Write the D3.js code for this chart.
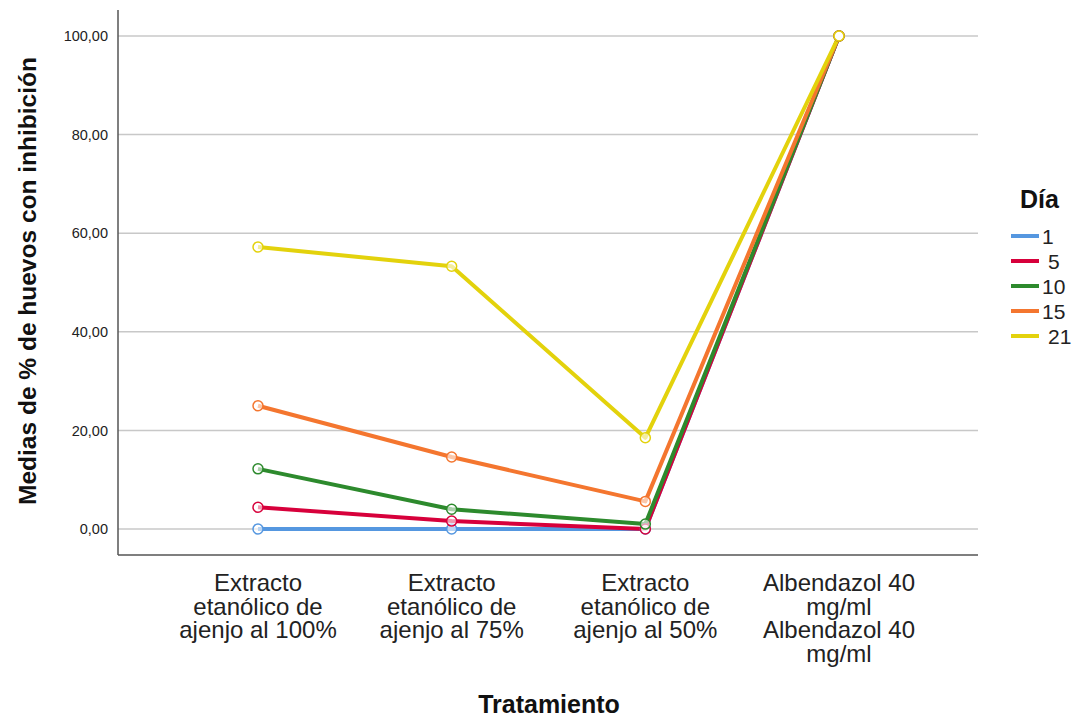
<!DOCTYPE html>
<html><head><meta charset="utf-8">
<script src="https://cdn.jsdelivr.net/npm/d3@7"></script>
<style>body{margin:0;background:#fff;font-family:"Liberation Sans",Arial,sans-serif;}</style>
</head><body><svg id="c" width="1077" height="717"></svg>
<script>
const categories = ["Extracto etanólico de ajenjo al 100%", "Extracto etanólico de ajenjo al 75%", "Extracto etanólico de ajenjo al 50%", "Albendazol 40 mg/ml Albendazol 40 mg/ml"];
const categoryLines = [["Extracto","etanólico de","ajenjo al 100%"],["Extracto","etanólico de","ajenjo al 75%"],["Extracto","etanólico de","ajenjo al 50%"],["Albendazol 40","mg/ml","Albendazol 40","mg/ml"]];
const days = ["1","5","10","15","21"];
const day1 = [0, 0, 0, 100];
const day5 = [4.4, 1.6, 0, 100];
const day10 = [12.2, 4.0, 1.0, 100];
const day15 = [25.0, 14.6, 5.6, 100];
const day21 = [57.2, 53.3, 18.5, 100];
const seriesValues = [day1, day5, day10, day15, day21];
const colors = ["#5597e0", "#d7003b", "#2d8a2d", "#f4762f", "#e3d20c"];
const yTicks = [0, 20, 40, 60, 80, 100];

const svg = d3.select("#c");
const L = 118, R = 978, T = 10, B = 555;
const y = d3.scaleLinear().domain([0, 100]).range([529, 36]);
const x = d3.scalePoint().domain(categories).range([258, 839]);

// gridlines
svg.append("g").selectAll("line").data(yTicks).join("line")
  .attr("x1", L).attr("x2", R).attr("y1", d => y(d)).attr("y2", d => y(d))
  .attr("stroke", "#c8c8c8").attr("stroke-width", 1.5);

// y axis
const yAxis = d3.axisLeft(y).tickValues(yTicks).tickSize(0).tickPadding(10)
  .tickFormat(d => d3.format(".2f")(d).replace(".", ","));
const gy = svg.append("g").attr("transform", `translate(${L},0)`).call(yAxis);
gy.select(".domain").remove();
gy.selectAll("text").attr("font-size", 14.5).attr("fill", "#222").attr("font-family", "Liberation Sans, Arial, sans-serif");
svg.append("line").attr("x1", L).attr("x2", L).attr("y1", T).attr("y2", B).attr("stroke", "#555").attr("stroke-width", 1.5);
svg.append("line").attr("x1", L).attr("x2", R).attr("y1", B).attr("y2", B).attr("stroke", "#555").attr("stroke-width", 1.5);

// x labels
const gx = svg.append("g");
categories.forEach((c, i) => {
  const t = gx.append("text").attr("x", x(c)).attr("y", 591).attr("text-anchor", "middle")
    .attr("font-size", 24).attr("fill", "#222");
  categoryLines[i].forEach((ln, j) => t.append("tspan").attr("x", x(c)).attr("dy", j ? 23.5 : 0).text(ln));
});

// lines
const line = d3.line().x((d, i) => x(categories[i])).y(d => y(d));
seriesValues.forEach((vals, s) => {
  svg.append("path").datum(vals).attr("d", line).attr("fill", "none")
    .attr("stroke", colors[s]).attr("stroke-width", 4).attr("stroke-linejoin", "round");
});
seriesValues.forEach((vals, s) => {
  svg.append("g").selectAll("circle").data(vals).join("circle")
    .attr("cx", (d, i) => x(categories[i])).attr("cy", d => y(d)).attr("r", 5)
    .attr("fill", "rgba(255,255,255,0.6)").attr("stroke", colors[s]).attr("stroke-width", 1.5);
});

// axis titles
svg.append("text").attr("x", 549).attr("y", 713).attr("text-anchor", "middle")
  .attr("font-size", 25).attr("font-weight", "bold").attr("fill", "#111").text("Tratamiento");
svg.append("text").attr("transform", "translate(36,281) rotate(-90)").attr("text-anchor", "middle")
  .attr("font-size", 24.5).attr("font-weight", "bold").attr("fill", "#111").text("Medias de % de huevos con inhibición");

// legend
const lg = svg.append("g");
lg.append("text").attr("x", 1020).attr("y", 208).attr("font-size", 25).attr("font-weight", "bold").attr("fill", "#111").text("Día");
const offs = [0, 6, 0, 0, 6];
days.forEach((d, i) => {
  const yy = 236 + i * 25;
  lg.append("line").attr("x1", 1011).attr("x2", 1039).attr("y1", yy).attr("y2", yy)
    .attr("stroke", colors[i]).attr("stroke-width", 4);
  lg.append("text").attr("x", 1042 + offs[i]).attr("y", yy + 8).attr("font-size", 21).attr("fill", "#222").text(d);
});
</script></body></html>
